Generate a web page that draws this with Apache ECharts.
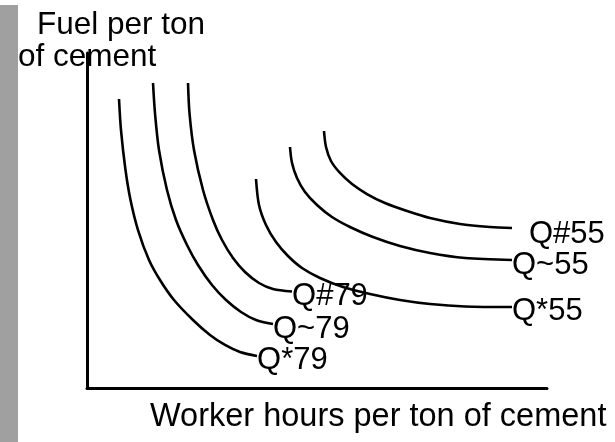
<!DOCTYPE html>
<html><head><meta charset="utf-8">
<script src="https://cdn.jsdelivr.net/npm/echarts@6/dist/echarts.min.js"></script>
<style>html,body{margin:0;padding:0;background:#fff}#c{width:615px;height:442px}</style>
</head><body><div id="c"></div>
<script>
// Isoquant curves (x = worker hours per ton, y = fuel per ton), arbitrary units 0-100
const curveNames = ['Q*79', 'Q~79', 'Q#79', 'Q*55', 'Q~55', 'Q#55'];
const qStar79 = [[6.96,86.27],[7.39,77.01],[8.37,65.07],[9.46,56.12],[11.09,47.16],[13.48,38.21],[15.87,32.24],[18.91,26.27],[23.04,20.30],[26.74,15.82],[30.00,12.84],[33.26,10.75],[36.96,9.55]];
const qTilde79 = [[14.35,91.04],[14.78,82.09],[15.65,71.04],[17.39,59.10],[19.35,50.15],[21.74,42.69],[24.13,36.72],[27.17,30.75],[30.22,26.27],[33.48,22.69],[36.74,20.30],[40.43,19.10]];
const qHash79 = [[21.96,91.04],[22.28,82.09],[23.26,71.04],[25.22,59.10],[27.39,50.15],[29.35,44.18],[31.74,38.81],[34.35,34.63],[37.39,31.34],[40.43,29.55],[44.57,28.81]];
const qStar55 = [[36.74,62.39],[37.39,54.63],[38.91,48.66],[41.09,43.58],[43.70,39.40],[46.74,35.82],[50.65,32.84],[55.65,30.15],[61.52,28.06],[68.04,26.27],[74.57,25.07],[82.17,24.33],[92.39,24.18]];
const qTilde55 = [[44.13,71.94],[44.57,67.16],[45.65,62.69],[47.39,58.51],[50.00,54.63],[53.26,51.04],[57.17,48.06],[62.17,45.07],[68.04,42.39],[74.57,40.30],[82.17,38.81],[92.39,38.21]];
const qHash55 = [[51.52,76.72],[51.96,71.94],[53.04,67.76],[55.00,64.18],[57.61,60.90],[60.87,57.91],[64.78,55.22],[69.57,52.84],[74.57,50.75],[81.09,48.96],[87.61,48.06],[92.39,47.76]];
const curves = [qStar79, qTilde79, qHash79, qStar55, qTilde55, qHash55];
const yTitle = ['Fuel per ton', 'of cement'];
const xTitle = 'Worker hours per ton of cement';

const FONT = '"Liberation Sans", Arial, sans-serif';
const FS = 31;
const labelOffsets = [[0,4],[0,5],[0,5],[0,4],[0,5],[17,6]];

const chart = echarts.init(document.getElementById('c'), null, {renderer:'canvas'});
chart.setOption({
  animation: false,
  backgroundColor: '#fff',
  grid: {left: 87, top: 53, width: 460, height: 335, containLabel: false},
  xAxis: {type:'value', min:0, max:100, axisLine:{show:true, onZero:false, lineStyle:{color:'#000', width:3}},
          axisTick:{show:false}, axisLabel:{show:false}, splitLine:{show:false}},
  yAxis: {type:'value', min:0, max:100, axisLine:{show:true, onZero:false, lineStyle:{color:'#000', width:3}},
          axisTick:{show:false}, axisLabel:{show:false}, splitLine:{show:false}},
  graphic: [
    {type:'rect', shape:{x:0, y:5, width:18, height:437}, style:{fill:'#a0a0a0'}, z:0},
    {type:'text', x:37, y:25, style:{text:yTitle[0], font:'31.5px '+FONT, fill:'#000', verticalAlign:'middle'}},
    {type:'text', x:18, y:57, style:{text:yTitle[1], font:'31.5px '+FONT, fill:'#000', verticalAlign:'middle'}},
    {type:'text', x:150, y:417, style:{text:xTitle, font:'32.5px '+FONT, fill:'#000', verticalAlign:'middle'}}
  ],
  series: curves.map((d, i) => ({
    type:'line', name: curveNames[i], data: d, smooth: 0.3, symbol:'none',
    lineStyle:{color:'#000', width:2.6},
    endLabel:{show:true, formatter: curveNames[i], distance:0, offset: labelOffsets[i],
              fontSize: FS, fontFamily: FONT, color:'#000'}
  }))
});
</script></body></html>
